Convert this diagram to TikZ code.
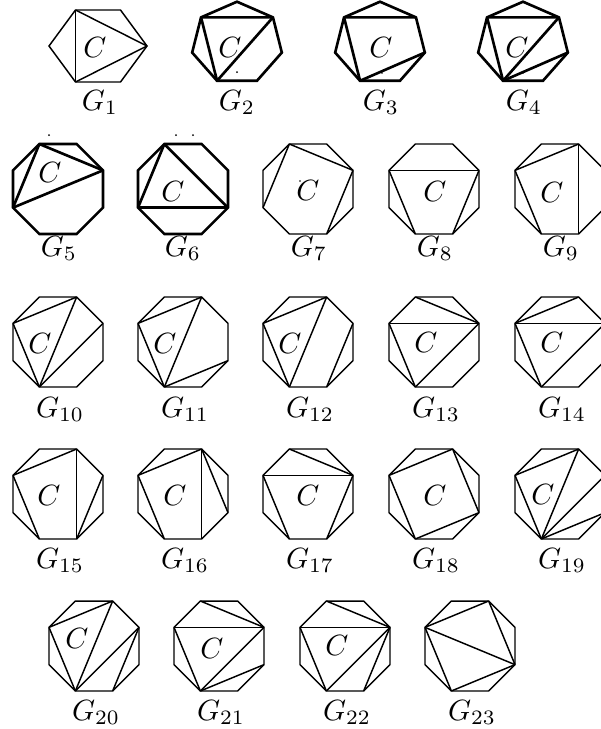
\documentclass[tikz,border=0pt]{standalone}
\usepackage{tikz}
\usetikzlibrary{calc}

\begin{document}
\begin{tikzpicture}[x=0.3415pt,y=0.3415pt,
  poly/.style={draw=black,line width=0.5pt,line join=miter},
  heavy/.style={poly,line width=0.9pt},
  lab/.style={anchor=base,inner sep=0pt},
  face/.style={inner sep=0pt},
  speck/.style={fill=black}
]
\useasboundingbox (0,0) rectangle (600,-729);

% hexagon G1
\begin{scope}[shift={(98,-46)}]
  \coordinate (g1-1) at (-49,0);
  \coordinate (g1-2) at (-22.5,36);
  \coordinate (g1-3) at (22.5,36);
  \coordinate (g1-4) at (49,0);
  \coordinate (g1-5) at (22.5,-36);
  \coordinate (g1-6) at (-22.5,-36);
\end{scope}
\draw[poly] (g1-1) -- (g1-2) -- (g1-3) -- (g1-4) -- (g1-5) -- (g1-6) -- cycle;
\draw[poly] (g1-2) -- (g1-6);
\draw[poly] (g1-2) -- (g1-4);
\draw[poly] (g1-6) -- (g1-4);

% heptagons G2--G4
\foreach \g/\x in {g2/237,g3/380,g4/523}{
  \begin{scope}[shift={(\x,-43.3)}]
    \foreach \k in {1,...,7} \coordinate (\g-\k) at ({90-360/7*(\k-1)}:46 and 41.6);
  \end{scope}
  \draw[heavy] (\g-1) -- (\g-2) -- (\g-3) -- (\g-4) -- (\g-5) -- (\g-6) -- (\g-7) -- cycle;
  \draw[heavy] (\g-7) -- (\g-2);
  \draw[heavy] (\g-7) -- (\g-5);
}
\draw[heavy] (g2-5) -- (g2-2);
\draw[heavy] (g3-5) -- (g3-3);
\draw[heavy] (g4-5) -- (g4-2);
\draw[heavy] (g4-5) -- (g4-3);

% octagons G5--G23
\foreach \g/\x/\y in {g5/58/189,g6/183/189,g7/308/189,g8/434/189,g9/560/189,
    g10/58/342,g11/183/342,g12/308/342,g13/434/342,g14/560/342,
    g15/58/494,g16/183/494,g17/308/494,g18/434/494,g19/560/494,
    g20/94/646,g21/219/646,g22/345/646,g23/470/646}{
  \begin{scope}[shift={(\x,-\y)}]
    \foreach \k in {1,...,8} \coordinate (\g-\k) at ({112.5-45*(\k-1)}:48.7);
  \end{scope}
}
\foreach \g in {g5,g6}
  \draw[heavy] (\g-1) -- (\g-2) -- (\g-3) -- (\g-4) -- (\g-5) -- (\g-6) -- (\g-7) -- (\g-8) -- cycle;
\foreach \g in {g7,g8,g9,g10,g11,g12,g13,g14,g15,g16,g17,g18,g19,g20,g21,g22,g23}
  \draw[poly] (\g-1) -- (\g-2) -- (\g-3) -- (\g-4) -- (\g-5) -- (\g-6) -- (\g-7) -- (\g-8) -- cycle;

% chords
\foreach \a/\b in {1/3,1/7,7/3} \draw[heavy] (g5-\a) -- (g5-\b);
\foreach \a/\b in {1/7,1/4,7/4} \draw[heavy] (g6-\a) -- (g6-\b);
\foreach \a/\b in {1/3,1/7,3/5} \draw[poly] (g7-\a) -- (g7-\b);
\foreach \a/\b in {8/3,8/6,3/5} \draw[poly] (g8-\a) -- (g8-\b);
\foreach \a/\b in {8/2,8/6,2/5} \draw[poly] (g9-\a) -- (g9-\b);
\foreach \a/\b in {8/2,8/6,6/2,6/3} \draw[poly] (g10-\a) -- (g10-\b);
\foreach \a/\b in {8/2,8/6,6/2,6/4} \draw[poly] (g11-\a) -- (g11-\b);
\foreach \a/\b in {8/2,8/6,6/2,3/5} \draw[poly] (g12-\a) -- (g12-\b);
\foreach \a/\b in {1/3,8/3,8/6,6/3} \draw[poly] (g13-\a) -- (g13-\b);
\foreach \a/\b in {8/2,8/3,8/6,6/3} \draw[poly] (g14-\a) -- (g14-\b);
\foreach \a/\b in {8/2,8/6,2/5,5/3} \draw[poly] (g15-\a) -- (g15-\b);
\foreach \a/\b in {8/2,8/6,2/5,2/4} \draw[poly] (g16-\a) -- (g16-\b);
\foreach \a/\b in {1/3,8/3,8/6,3/5} \draw[poly] (g17-\a) -- (g17-\b);
\foreach \a/\b in {8/2,2/4,4/6,6/8} \draw[poly] (g18-\a) -- (g18-\b);
\foreach \a/\b in {8/2,8/6,6/2,6/3,6/4} \draw[poly] (g19-\a) -- (g19-\b);
\foreach \a/\b in {8/2,8/6,6/2,6/3,3/5} \draw[poly] (g20-\a) -- (g20-\b);
\foreach \a/\b in {1/3,8/3,8/6,6/3,6/4} \draw[poly] (g21-\a) -- (g21-\b);
\foreach \a/\b in {1/3,8/3,8/6,6/3,3/5} \draw[poly] (g22-\a) -- (g22-\b);
\foreach \a/\b in {8/2,2/4,8/4,8/6,6/4} \draw[poly] (g23-\a) -- (g23-\b);

% stray dots
\fill[speck] (237,-72) circle (1);
\fill[speck] (382,-73) circle (0.8);
\fill[speck] (523,-73) circle (0.8);
\fill[speck] (49,-135) circle (1);
\fill[speck] (176,-135) circle (1);
\fill[speck] (193,-135) circle (1);
\fill[speck] (300,-181) circle (0.8);

% C faces
\node[face] (c1) at (95,-47) {$C$};
\node[face] (c2) at (230,-47) {$C$};
\node[face] (c3) at (381,-47) {$C$};
\node[face] (c4) at (517,-47) {$C$};
\node[face] (c5) at (50,-172) {$C$};
\node[face] (c6) at (173,-191) {$C$};
\node[face] (c7) at (308,-190) {$C$};
\node[face] (c8) at (435,-191) {$C$};
\node[face] (c9) at (552,-192) {$C$};
\node[face] (c10) at (40,-343) {$C$};
\node[face] (c11) at (165,-343) {$C$};
\node[face] (c12) at (290,-343) {$C$};
\node[face] (c13) at (426,-342) {$C$};
\node[face] (c14) at (552,-342) {$C$};
\node[face] (c15) at (49,-495) {$C$};
\node[face] (c16) at (175,-495) {$C$};
\node[face] (c17) at (308,-495) {$C$};
\node[face] (c18) at (435,-495) {$C$};
\node[face] (c19) at (543,-494) {$C$};
\node[face] (c20) at (77,-638) {$C$};
\node[face] (c21) at (212,-648) {$C$};
\node[face] (c22) at (337,-645) {$C$};

% names
\node[lab] (l1) at (100,-110) {$G_1$};
\node[lab] (l2) at (237,-110) {$G_2$};
\node[lab] (l3) at (381,-110) {$G_3$};
\node[lab] (l4) at (524,-110) {$G_4$};
\node[lab] (l5) at (59,-256) {$G_5$};
\node[lab] (l6) at (183,-256) {$G_6$};
\node[lab] (l7) at (309,-256) {$G_7$};
\node[lab] (l8) at (435,-256) {$G_8$};
\node[lab] (l9) at (561,-256) {$G_9$};
\node[lab] (l10) at (60,-417) {$G_{10}$};
\node[lab] (l11) at (185,-417) {$G_{11}$};
\node[lab] (l12) at (310,-417) {$G_{12}$};
\node[lab] (l13) at (436,-417) {$G_{13}$};
\node[lab] (l14) at (562,-417) {$G_{14}$};
\node[lab] (l15) at (60,-568) {$G_{15}$};
\node[lab] (l16) at (185,-568) {$G_{16}$};
\node[lab] (l17) at (310,-568) {$G_{17}$};
\node[lab] (l18) at (436,-568) {$G_{18}$};
\node[lab] (l19) at (562,-568) {$G_{19}$};
\node[lab] (l20) at (96,-720) {$G_{20}$};
\node[lab] (l21) at (221,-720) {$G_{21}$};
\node[lab] (l22) at (347,-720) {$G_{22}$};
\node[lab] (l23) at (472,-720) {$G_{23}$};
\end{tikzpicture}
\end{document}
